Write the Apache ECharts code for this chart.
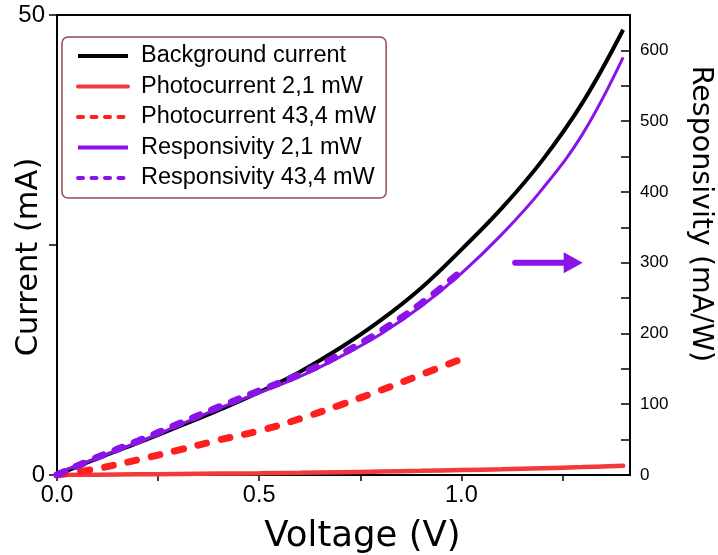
<!DOCTYPE html>
<html>
<head>
<meta charset="utf-8">
<script src="https://cdn.jsdelivr.net/npm/echarts@6/dist/echarts.min.js"></script>
<style>
  html, body { margin: 0; padding: 0; background: #fff; }
  #chart { width: 718px; height: 555px; }
</style>
</head>
<body>
<div id="chart"></div>
<script>
// Bias voltage (V) for the full sweep and for the high-power sweep
const volts = [0, 0.1, 0.2, 0.3, 0.4, 0.5, 0.6, 0.7, 0.8, 0.9, 1.0, 1.1, 1.2, 1.3, 1.4];
const voltsHigh = [0, 0.1, 0.2, 0.3, 0.4, 0.5, 0.6, 0.7, 0.8, 0.9, 1.0];

// Currents (mA), left axis
const backgroundCurrent = [0, 1.8, 3.5, 5.25, 7.05, 9.0, 11.2, 13.8, 16.8, 20.3, 24.5, 29.0, 34.2, 40.5, 48.4];
const photocurrentLow = [0, 0.03, 0.07, 0.11, 0.15, 0.19, 0.24, 0.30, 0.37, 0.45, 0.54, 0.63, 0.74, 0.86, 1.0];
const photocurrentHigh = [0, 0.7, 1.65, 2.7, 3.8, 4.8, 6.1, 7.6, 9.2, 10.9, 12.6];

// Responsivity (mA/W), right axis
const responsivityLow = [3, 24, 46, 70, 94, 116, 139, 167, 199, 238, 285, 340, 404, 482, 590];
const responsivityHigh = [0, 25, 48, 72, 96, 119, 142, 170, 203, 242, 288];

// Axis ticks and labels
const voltTicks = [0, 0.25, 0.5, 0.75, 1.0, 1.25];
const voltLabels = [0, 0.5, 1.0];
const currentTicks = [0, 25, 50];
const currentLabels = [0, 50];
const respTicks = [0, 50, 100, 150, 200, 250, 300, 350, 400, 450, 500, 550, 600];
const respLabels = [0, 100, 200, 300, 400, 500, 600];

const names = {
  bg: 'Background current',
  pLow: 'Photocurrent 2,1 mW',
  pHigh: 'Photocurrent 43,4 mW',
  rLow: 'Responsivity 2,1 mW',
  rHigh: 'Responsivity 43,4 mW'
};

const RED = '#ff1f1f';
const RED_SOLID = '#f23a3a';
const PURPLE = '#8a14e8';
const AXIS = '#000';
const TICK_FONT = 'Liberation Sans';
const TITLE_FONT = 'DejaVu Sans';

const pairs = (xs, ys) => xs.map((x, i) => [x, ys[i]]);

const chart = echarts.init(document.getElementById('chart'), null, { renderer: 'canvas' });

const option = {
  animation: false,
  backgroundColor: '#fff',
  grid: {
    left: 57, right: 88, top: 15, bottom: 80,
    outerBoundsMode: 'none', containLabel: false,
    show: true, borderColor: AXIS, borderWidth: 1.8, backgroundColor: 'transparent'
  },
  legend: {
    orient: 'vertical',
    left: 62, top: 37,
    padding: [7, 10, 8, 14],
    itemWidth: 50, itemHeight: 14, itemGap: 6.5,
    borderColor: '#8e4f4f', borderWidth: 1.5, borderRadius: 6,
    backgroundColor: '#fff',
    itemStyle: { opacity: 0 },
    textStyle: { fontFamily: TICK_FONT, fontSize: 23.5, color: '#000', padding: [0, 0, 0, 8] },
    data: [
      { name: names.bg, lineStyle: { width: 4, color: '#000' } },
      { name: names.pLow, lineStyle: { width: 4, color: RED_SOLID } },
      { name: names.pHigh, lineStyle: { width: 4, color: RED, type: [5, 8.5], cap: 'round' } },
      { name: names.rLow, lineStyle: { width: 4, color: PURPLE } },
      { name: names.rHigh, lineStyle: { width: 4, color: PURPLE, type: [5, 8.5], cap: 'round' } }
    ]
  },
  xAxis: {
    type: 'value', min: 0, max: 1.417,
    name: 'Voltage (V)', nameLocation: 'middle', nameGap: 44, nameMoveOverlap: false,
    nameTextStyle: { fontFamily: TITLE_FONT, fontSize: 35.5, color: '#000', padding: [0, 0, 0, 38] },
    axisLine: { show: true, onZero: false, lineStyle: { color: AXIS, width: 1.8 } },
    axisTick: { show: true, inside: false, length: 6, customValues: voltTicks, lineStyle: { color: AXIS, width: 1.5 } },
    axisLabel: {
      customValues: voltLabels, margin: 9,
      fontFamily: TICK_FONT, fontSize: 23.5, color: '#000',
      formatter: v => v.toFixed(1)
    },
    splitLine: { show: false }
  },
  yAxis: [
    {
      type: 'value', min: 0, max: 50, position: 'left',
      name: 'Current (mA)', nameLocation: 'middle', nameGap: 12, nameRotate: 90, nameMoveOverlap: false,
      nameTextStyle: { fontFamily: TITLE_FONT, fontSize: 30.5, color: '#000', padding: [0, 24, 0, 0] },
      axisLine: { show: true, onZero: false, lineStyle: { color: AXIS, width: 1.8 } },
      axisTick: { show: true, inside: false, length: 8, customValues: currentTicks, lineStyle: { color: AXIS, width: 1.5 } },
      axisLabel: { customValues: currentLabels, margin: 12, fontFamily: TICK_FONT, fontSize: 24, color: '#000' },
      splitLine: { show: false }
    },
    {
      type: 'value', min: 0, max: 650, position: 'right',
      name: 'Responsivity (mA/W)', nameLocation: 'middle', nameGap: 56, nameRotate: -90, nameMoveOverlap: false,
      nameTextStyle: { fontFamily: TITLE_FONT, fontSize: 28.5, color: '#000', padding: [0, 62, 0, 0] },
      axisLine: { show: true, onZero: false, lineStyle: { color: AXIS, width: 1.8 } },
      axisTick: { show: true, inside: true, length: 9, customValues: respTicks, lineStyle: { color: AXIS, width: 1.5 } },
      axisLabel: { customValues: respLabels, margin: 10, fontFamily: TICK_FONT, fontSize: 17, color: '#000' },
      splitLine: { show: false }
    }
  ],
  series: [
    {
      name: names.bg, type: 'line', yAxisIndex: 0, symbol: 'none', smooth: 0.4,
      data: pairs(volts, backgroundCurrent),
      lineStyle: { color: '#000', width: 4 }, itemStyle: { color: '#000' }, z: 2
    },
    {
      name: names.pLow, type: 'line', yAxisIndex: 0, symbol: 'none', smooth: 0.4,
      data: pairs(volts, photocurrentLow),
      lineStyle: { color: RED_SOLID, width: 4.5, cap: 'round' }, itemStyle: { color: RED_SOLID }, z: 3
    },
    {
      name: names.pHigh, type: 'line', yAxisIndex: 0, symbol: 'none', smooth: 0.4,
      data: pairs(voltsHigh, photocurrentHigh),
      lineStyle: { color: RED, width: 7, type: [9, 15], cap: 'round' }, itemStyle: { color: RED }, z: 4
    },
    {
      name: names.rLow, type: 'line', yAxisIndex: 1, symbol: 'none', smooth: 0.4,
      data: pairs(volts, responsivityLow),
      lineStyle: { color: PURPLE, width: 3 }, itemStyle: { color: PURPLE }, z: 5
    },
    {
      name: names.rHigh, type: 'line', yAxisIndex: 1, symbol: 'none', smooth: 0.4,
      data: pairs(voltsHigh, responsivityHigh),
      lineStyle: { color: PURPLE, width: 7, type: [8, 13], cap: 'round' }, itemStyle: { color: PURPLE }, z: 6
    }
  ]
};

chart.setOption(option);

// Arrow pointing at the responsivity axis, placed in data space
const arrowFrom = chart.convertToPixel({ xAxisIndex: 0, yAxisIndex: 1 }, [1.133, 300]);
const arrowTo = chart.convertToPixel({ xAxisIndex: 0, yAxisIndex: 1 }, [1.30, 300]);
const headLen = 19, headHalf = 10.5;
chart.setOption({
  graphic: [
    {
      type: 'line', z: 20,
      shape: { x1: arrowFrom[0], y1: arrowFrom[1], x2: arrowTo[0] - headLen + 1, y2: arrowTo[1] },
      style: { stroke: PURPLE, lineWidth: 6, lineCap: 'round' }
    },
    {
      type: 'polygon', z: 20,
      shape: { points: [
        [arrowTo[0] - headLen, arrowTo[1] - headHalf],
        [arrowTo[0], arrowTo[1]],
        [arrowTo[0] - headLen, arrowTo[1] + headHalf]
      ] },
      style: { fill: PURPLE }
    }
  ]
});
</script>
</body>
</html>
